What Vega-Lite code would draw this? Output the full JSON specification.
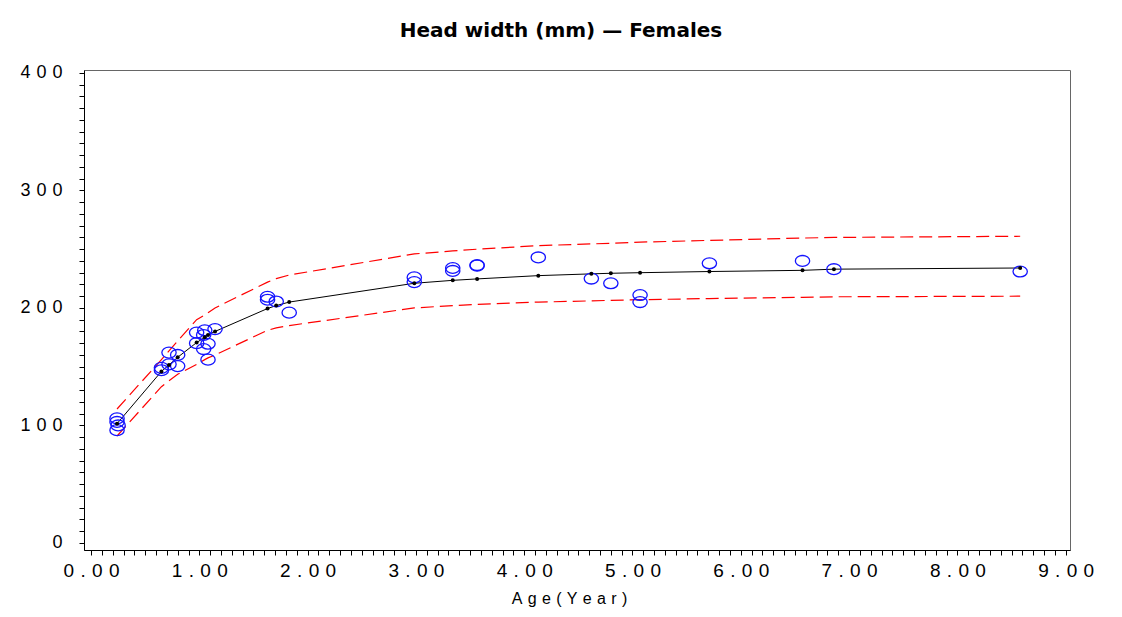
{
  "$schema": "https://vega.github.io/schema/vega-lite/v6.json",
  "width": 986,
  "height": 480,
  "autosize": "none",
  "padding": {"left": 84, "top": 70, "right": 52, "bottom": 67},
  "background": "white",
  "title": {
    "text": "Head width (mm) \u2014 Females",
    "font": "DejaVu Sans",
    "fontSize": 20,
    "fontWeight": "bold",
    "color": "black",
    "anchor": "middle",
    "offset": 23,
    "dx": -16
  },
  "config": {
    "view": {"stroke": "#666666", "strokeWidth": 1},
    "axis": {
      "grid": false,
      "domainColor": "black",
      "tickColor": "black",
      "labelColor": "black",
      "titleColor": "black",
      "labelFont": "Liberation Sans",
      "titleFont": "Liberation Sans",
      "labelOverlap": false,
      "labelBound": false,
      "labelFlush": false
    }
  },
  "datasets": {
    "obs": [
      {"age": 0.24, "hw": 106}, {"age": 0.24, "hw": 103}, {"age": 0.25, "hw": 100}, {"age": 0.24, "hw": 96},
      {"age": 0.65, "hw": 149}, {"age": 0.65, "hw": 147},
      {"age": 0.72, "hw": 162}, {"age": 0.72, "hw": 152},
      {"age": 0.80, "hw": 160}, {"age": 0.80, "hw": 150.5},
      {"age": 0.975, "hw": 179}, {"age": 0.975, "hw": 170},
      {"age": 1.05, "hw": 181}, {"age": 1.04, "hw": 177}, {"age": 1.04, "hw": 165},
      {"age": 1.08, "hw": 169.5}, {"age": 1.08, "hw": 156},
      {"age": 1.145, "hw": 182},
      {"age": 1.63, "hw": 209.5}, {"age": 1.63, "hw": 207},
      {"age": 1.71, "hw": 205.5},
      {"age": 1.83, "hw": 196},
      {"age": 2.985, "hw": 226}, {"age": 2.985, "hw": 222},
      {"age": 3.34, "hw": 234}, {"age": 3.34, "hw": 231.5},
      {"age": 3.565, "hw": 236.5}, {"age": 3.565, "hw": 236},
      {"age": 4.13, "hw": 243},
      {"age": 4.62, "hw": 225},
      {"age": 4.80, "hw": 221},
      {"age": 5.07, "hw": 211}, {"age": 5.07, "hw": 205},
      {"age": 5.71, "hw": 238},
      {"age": 6.57, "hw": 240},
      {"age": 6.86, "hw": 233},
      {"age": 8.58, "hw": 231}
    ],
    "fit": [
      {"age": 0.24, "fit": 101.5, "upper": 114, "lower": 91},
      {"age": 0.65, "fit": 146, "upper": 156, "lower": 133},
      {"age": 0.72, "fit": 151.5, "upper": 163.5, "lower": 138},
      {"age": 0.80, "fit": 158, "upper": 172, "lower": 143.5},
      {"age": 0.975, "fit": 170.5, "upper": 190, "lower": 152},
      {"age": 1.05, "fit": 175, "upper": 194, "lower": 156},
      {"age": 1.08, "fit": 177, "upper": 196, "lower": 157.5},
      {"age": 1.145, "fit": 180, "upper": 200, "lower": 160},
      {"age": 1.63, "fit": 199.5, "upper": 222, "lower": 181},
      {"age": 1.71, "fit": 202, "upper": 225, "lower": 183},
      {"age": 1.83, "fit": 205, "upper": 228, "lower": 185},
      {"age": 2.985, "fit": 221, "upper": 246, "lower": 200},
      {"age": 3.34, "fit": 223.5, "upper": 248.5, "lower": 202},
      {"age": 3.565, "fit": 224.7, "upper": 250, "lower": 203},
      {"age": 4.13, "fit": 227.5, "upper": 253, "lower": 205},
      {"age": 4.62, "fit": 229, "upper": 254.5, "lower": 206},
      {"age": 4.80, "fit": 229.5, "upper": 255, "lower": 206.5},
      {"age": 5.07, "fit": 230, "upper": 256, "lower": 207},
      {"age": 5.71, "fit": 231, "upper": 257.5, "lower": 208},
      {"age": 6.57, "fit": 232, "upper": 259.5, "lower": 209},
      {"age": 6.86, "fit": 233, "upper": 260, "lower": 209.5},
      {"age": 8.58, "fit": 234, "upper": 261, "lower": 210}
    ]
  },
  "layer": [
    {
      "data": {"name": "fit"},
      "mark": {"type": "line", "color": "#ff0000", "strokeWidth": 1.2, "strokeDash": [13, 6]},
      "encoding": {
        "x": {
          "field": "age", "type": "quantitative",
          "scale": {"domain": [-0.065, 9.04], "nice": false, "zero": false},
          "axis": {
            "values": [0,0.1,0.2,0.3,0.4,0.5,0.6,0.7,0.8,0.9,1,1.1,1.2,1.3,1.4,1.5,1.6,1.7,1.8,1.9,2,2.1,2.2,2.3,2.4,2.5,2.6,2.7,2.8,2.9,3,3.1,3.2,3.3,3.4,3.5,3.6,3.7,3.8,3.9,4,4.1,4.2,4.3,4.4,4.5,4.6,4.7,4.8,4.9,5,5.1,5.2,5.3,5.4,5.5,5.6,5.7,5.8,5.9,6,6.1,6.2,6.3,6.4,6.5,6.6,6.7,6.8,6.9,7,7.1,7.2,7.3,7.4,7.5,7.6,7.7,7.8,7.9,8,8.1,8.2,8.3,8.4,8.5,8.6,8.7,8.8,8.9,9],
            "tickCount": 200,
            "labelExpr": "abs(datum.value - round(datum.value)) < 0.001 ? join(split(format(datum.value, '.2f'), ''), '\u2004') : ''",
            "labelOverlap": false,
            "tickSize": 5,
            "labelFontSize": 19,
            "labelPadding": 6,
            "title": "A\u2004g\u2004e\u2004(\u2004Y\u2004e\u2004a\u2004r\u2004)",
            "titleFontSize": 16,
            "titleFontWeight": "normal",
            "titlePadding": 10,
            "titleX": 485
          }
        },
        "y": {
          "field": "upper", "type": "quantitative",
          "scale": {"domain": [-6, 402.5], "nice": false, "zero": false},
          "axis": {
            "values": [0,10,20,30,40,50,60,70,80,90,100,110,120,130,140,150,160,170,180,190,200,210,220,230,240,250,260,270,280,290,300,310,320,330,340,350,360,370,380,390,400],
            "tickCount": 100,
            "labelExpr": "datum.value % 100 === 0 ? join(split(format(datum.value, 'd'), ''), '\u2004') : ''",
            "labelOverlap": false,
            "tickSize": 5,
            "labelFontSize": 18,
            "labelPadding": 17,
            "title": null
          }
        }
      }
    },
    {
      "data": {"name": "fit"},
      "mark": {"type": "line", "color": "#ff0000", "strokeWidth": 1.2, "strokeDash": [13, 6]},
      "encoding": {
        "x": {"field": "age", "type": "quantitative"},
        "y": {"field": "lower", "type": "quantitative"}
      }
    },
    {
      "data": {"name": "fit"},
      "mark": {"type": "line", "color": "black", "strokeWidth": 1},
      "encoding": {
        "x": {"field": "age", "type": "quantitative"},
        "y": {"field": "fit", "type": "quantitative"}
      }
    },
    {
      "data": {"name": "obs"},
      "mark": {"type": "point", "shape": "M-1,0A1,0.76,0,1,1,1,0A1,0.76,0,1,1,-1,0Z", "filled": false, "color": "#1414ff", "strokeWidth": 1.3, "size": 205, "opacity": 1},
      "encoding": {
        "x": {"field": "age", "type": "quantitative"},
        "y": {"field": "hw", "type": "quantitative"}
      }
    },
    {
      "data": {"name": "fit"},
      "mark": {"type": "point", "shape": "circle", "filled": true, "color": "black", "size": 16, "opacity": 1},
      "encoding": {
        "x": {"field": "age", "type": "quantitative"},
        "y": {"field": "fit", "type": "quantitative"}
      }
    }
  ]
}
